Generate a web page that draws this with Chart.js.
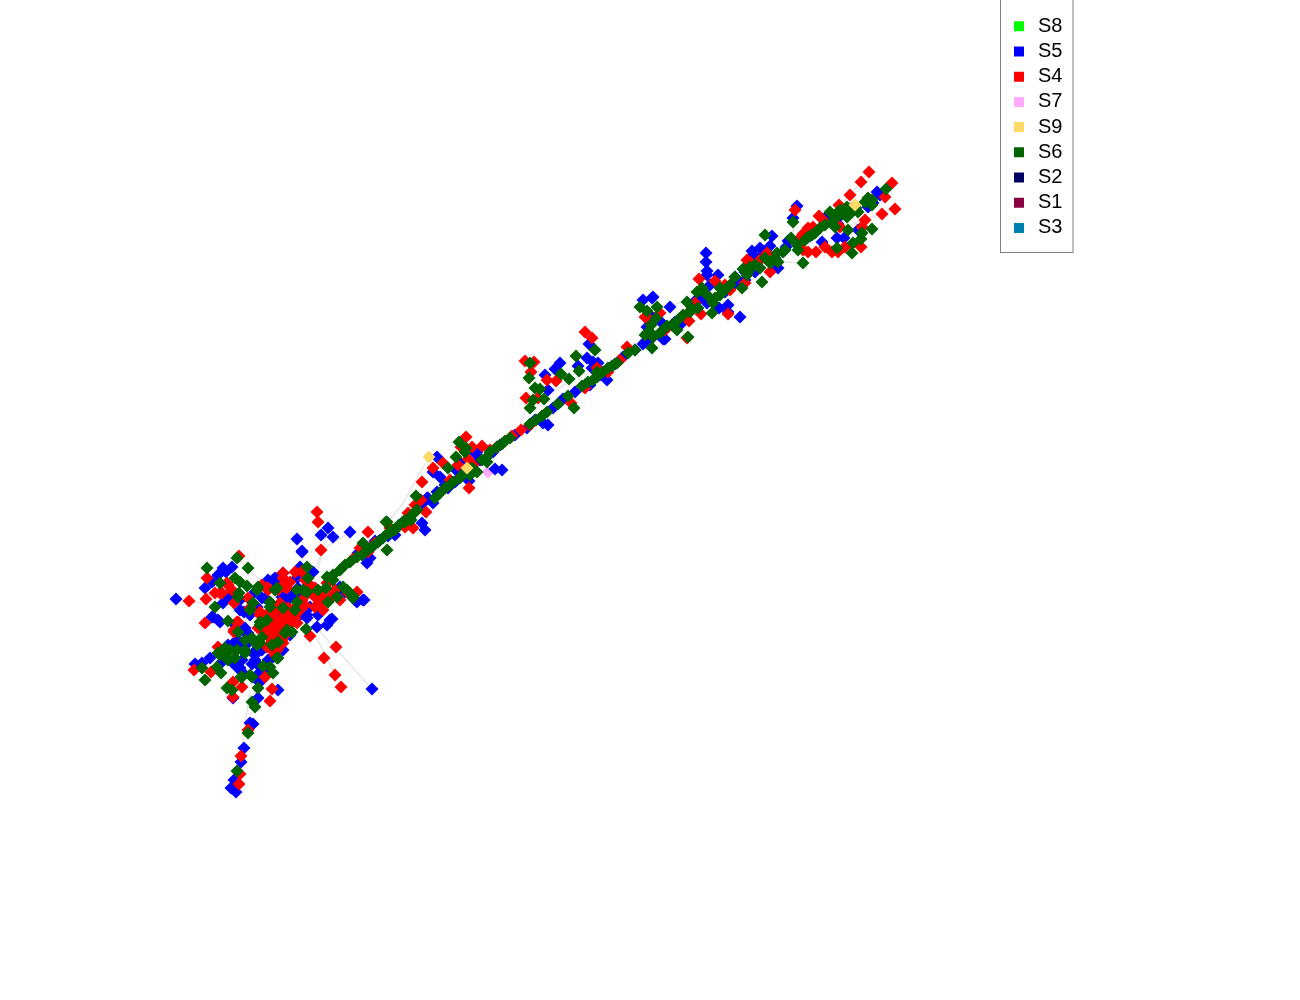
<!DOCTYPE html>
<html>
<head>
<meta charset="utf-8">
<title>Network map</title>
<script src="https://cdn.jsdelivr.net/npm/chart.js@4"></script>
<style>
  body { margin: 0; background: #fff; }
  canvas { display: block; }
</style>
</head>
<body>
<canvas id="chart" width="1300" height="1000"></canvas>
<script>
// values, in the map's own units
const seriesNames = ['S8', 'S5', 'S4', 'S7', 'S9', 'S6', 'S2', 'S1', 'S3'];
const seriesColors = ['#00ff00', '#0000ff', '#ff0000', '#ffaaff', '#ffd966', '#006400', '#000066', '#8b0040', '#0080b0'];

const s8 = [];
const s2 = [];
const s1 = [];
const s3 = [];
const s7 = [[319,609],[488,472]];
const s9 = [[429,457],[467,468],[855,205]];

const s5 = [
  [176,599],[205,588],[213,617],[220,622],[223,568],[218,575],[232,567],[223,603],[230,595],[244,612],
  [255,592],[257,607],[245,633],[226,572],[212,582],[240,600],[250,615],[262,598],[235,625],[272,605],
  [297,539],[302,551],[328,528],[321,535],[333,537],[350,532],[370,558],[302,552],[313,572],[300,567],
  [283,573],[275,578],[297,578],[298,588],[290,593],[340,587],[364,600],[357,602],[318,615],[332,619],
  [327,625],[317,627],[300,595],[288,600],[298,612],[310,607],[307,618],[345,592],[268,580],[280,612],
  [195,664],[202,663],[210,658],[235,665],[240,668],[233,698],[258,698],[278,690],[260,672],[257,680],
  [255,660],[268,660],[253,653],[272,638],[240,642],[248,633],[228,645],[245,628],[262,628],[276,640],
  [244,748],[241,762],[234,780],[231,788],[236,792],[250,723],[253,724],[372,689],[255,655],[235,642],
  [368,558],[367,563],[375,541],[395,535],[402,523],[422,523],[425,530],[427,498],[423,503],[433,503],
  [428,498],[448,488],[455,482],[440,477],[469,481],[433,472],[437,457],[495,469],[502,470],[475,453],
  [460,463],[456,470],[477,452],[493,452],[515,435],[543,423],[548,425],[553,408],[563,399],[575,392],
  [590,385],[607,380],[623,357],[643,344],[663,339],[548,390],[545,375],[555,369],[560,363],[578,366],
  [589,344],[593,362],[598,363],[587,358],[592,368],[652,298],[643,300],[653,297],[650,315],[662,323],
  [647,327],[665,339],[670,307],[682,323],[706,253],[706,262],[707,271],[707,275],[718,275],[710,285],
  [707,303],[695,301],[719,308],[728,305],[728,312],[740,317],[735,277],[733,285],[740,282],[797,206],
  [793,218],[772,236],[788,241],[770,246],[752,251],[760,248],[753,255],[762,255],[778,268],[755,272],
  [825,218],[822,242],[844,238],[837,238],[858,230],[877,192],[873,203],[880,195],[840,216],[838,224],
  [278,578],[273,580],[282,597],[292,597],[265,598],[228,597],[212,617],[218,620],[240,610],[332,597],
  [363,600],[355,600],[330,620],[307,615],[298,617],[290,635],[275,620],[273,657],[260,667],[237,640],
  [237,667],[242,660],[262,650],[246,645],[283,650],[268,672],[262,680],[252,664],[242,672],[222,662],
  [372,547],[388,536],[410,515],[445,485],[465,470],[500,445],[527,428],[560,402],[585,385],[615,364],
  [635,350],[652,338],[675,322],[700,298],[745,272],[775,258],[810,236],[832,222],[852,208],[868,207],
  [358,553],[380,540],[437,492],[480,460],[535,420],[600,375],[645,342],[725,292],[786,247],[745,280]
];

const s4 = [
  [189,601],[207,578],[206,599],[205,623],[234,630],[238,622],[239,556],[228,585],[215,593],[222,593],
  [234,603],[248,598],[268,590],[268,613],[260,612],[250,608],
  [317,512],[318,522],[368,532],[321,550],[290,582],[285,587],[302,571],[268,588],[327,583],[315,597],
  [322,592],[348,592],[357,592],[308,593],[305,605],[280,603],[288,608],[315,607],[323,610],[283,620],
  [275,625],[292,618],[268,630],[287,627],[275,628],[282,623],[288,618],[293,615],[280,643],[285,635],
  [272,615],[320,602],[335,590],[330,598],[310,585],[283,578],[278,590],[262,585],
  [310,636],[336,647],[324,658],[335,675],[341,687],[270,701],[233,697],[242,687],[233,682],[272,689],
  [194,670],[211,672],[218,647],[234,632],[269,647],[265,677],[270,648],[283,643],[280,633],[265,632],
  [241,756],[240,774],[239,784],[248,730],[360,548],[375,543],[373,545],[353,559],[405,527],[413,528],
  [408,513],[426,512],[421,500],[422,482],[433,468],[443,463],[469,488],[468,459],[472,447],[482,446],
  [466,437],[461,447],[458,465],[473,465],[497,447],[521,430],[512,436],[571,403],[627,347],[526,398],
  [538,398],[547,380],[556,381],[525,361],[534,362],[531,372],[585,332],[592,338],[597,368],[608,372],
  [647,317],[660,313],[645,317],[667,328],[687,338],[689,321],[688,313],[699,279],[715,281],[701,314],
  [728,314],[725,285],[730,290],[745,283],[869,172],[861,182],[892,183],[850,195],[885,197],[895,209],
  [882,214],[865,220],[862,227],[861,247],[845,247],[838,252],[832,252],[840,227],[795,210],[819,216],
  [839,205],[813,227],[808,228],[803,234],[825,247],[816,252],[808,252],[803,250],[767,253],[760,260],
  [747,260],[745,268],[770,272],
  [237,622],[235,631],[227,583],[220,593],[232,590],[267,588],[283,585],[287,588],[302,600],[302,572],
  [283,573],[320,597],[328,583],[348,593],[275,610],[260,615],[285,615],[292,610],[295,618],[278,627],
  [273,632],[270,638],[282,640],[277,650],[267,647],[292,623],[287,628],[297,623],[280,620],[270,622],
  [300,610],[290,612],[285,622],[278,634],[272,642],[283,612],[265,620],[258,628],
  [340,600],[325,590],[315,588],[305,580],[295,572],[275,655],
  [368,552],[390,528],[415,505],[450,480],[490,450],[530,425],[585,388],[620,360],[665,330],[695,303],
  [750,262],[800,238],[825,222],[845,212]
];

const s6 = [
  [207,568],[215,607],[228,621],[237,558],[248,568],[220,583],[235,578],[240,582],[247,586],[239,593],
  [253,603],[258,587],[260,622],[267,620],[307,567],[308,578],[327,577],[275,590],[303,590],[337,597],
  [343,587],[333,580],[353,598],[297,602],[270,602],[328,602],[295,610],[306,629],[287,630],[347,590],
  [386,522],[363,543],[387,550],[202,668],[205,680],[217,667],[221,673],[241,677],[252,677],[273,673],
  [263,666],[218,653],[225,652],[237,650],[228,660],[245,653],[255,642],[260,643],[277,658],[220,655],
  [225,648],[230,650],[245,650],[252,638],[262,637],[257,645],[242,677],[250,675],[227,688],[232,690],
  [258,688],[252,702],[255,707],[270,667],[278,658],[292,632],[285,633],[248,733],[237,771],[283,608],
  [383,538],[387,522],[388,533],[393,530],[345,565],[350,562],[357,557],[362,555],[340,570],[333,575],
  [405,522],[410,517],[417,510],[416,496],[395,530],[390,533],[411,520],[415,512],[435,498],[440,493],
  [445,488],[453,482],[460,478],[462,475],[470,475],[477,472],[448,468],[487,462],[487,457],[459,442],
  [466,448],[465,452],[456,457],[502,444],[510,438],[530,424],[542,416],[547,412],[558,404],[568,396],
  [574,408],[582,386],[588,382],[597,377],[608,368],[617,363],[635,350],[652,348],[653,335],[647,333],
  [533,400],[530,408],[540,389],[535,388],[544,399],[529,378],[569,379],[561,374],[530,363],[579,371],
  [576,356],[595,350],[597,372],[593,380],[640,307],[647,311],[657,307],[651,325],[656,318],[645,335],
  [653,337],[662,331],[672,325],[678,320],[677,330],[688,337],[683,315],[702,288],[697,292],[705,293],
  [710,298],[720,288],[720,295],[715,298],[713,303],[712,313],[698,308],[692,309],[687,302],[735,277],
  [742,288],[743,269],[747,275],[762,282],[803,263],[765,235],[791,238],[797,245],[798,250],[793,222],
  [777,253],[783,252],[773,260],[770,263],[778,262],[750,267],[760,268],[748,272],[886,189],[868,198],
  [865,202],[872,200],[872,205],[872,229],[862,233],[861,239],[852,253],[853,243],[837,248],[848,230],
  [847,207],[842,213],[837,217],[852,212],[858,212],[832,222],[835,227],[825,225],[820,228],[815,233],
  [808,237],[805,240],[830,212],[847,217],
  [257,590],[307,592],[297,590],[277,588],[238,597],[250,610],[270,607],[260,625],[253,640],[278,642],
  [353,596],[238,632],[245,640],[272,645],[235,658],
  [368,550],[373,546],[378,542],[399,525],[404,521],[450,485],[466,472],[472,468],
  [482,460],[490,452],[497,447],[505,441],[536,420],
  [603,372],[612,366],[628,353],[660,333],[667,326],[690,312],[725,290],[730,285],
  [755,265],[765,258],[785,250],[812,235],[840,210],[856,208],[318,590],[326,588]
];

// faint links of the network behind the marks
const links = [
  [310,620],[372,689],null,[310,625],[342,688],null,[250,690],[236,790],null,
  [176,599],[230,608],null,[237,558],[265,585],null,[350,532],[322,550],[312,580],null,
  [429,457],[402,505],[385,525],null,[530,400],[520,425],null,[548,395],[585,372],null,
  [869,172],[825,225],null,[895,209],[850,225],null,[793,222],[793,240],null,
  [803,263],[785,262],null,[670,307],[690,298],null,[710,300],[745,275],null,
  [245,665],[258,700],null,[330,520],[318,570]
];

const seriesPoints = [s8, s5, s4, s7, s9, s6, s2, s1, s3];
const drawOrder = { S9: 1, S6: 3, S4: 4, S5: 5, S7: 6 };

function toXY(list) {
  return list.map(p => p ? { x: p[0], y: p[1] } : { x: null, y: null });
}

const datasets = seriesNames.map((name, i) => ({
  label: name,
  data: toXY(seriesPoints[i]),
  backgroundColor: seriesColors[i],
  borderWidth: 0,
  pointStyle: 'rectRot',
  pointRadius: 6.5,
  order: drawOrder[name] || 7
}));

datasets.push({
  label: 'links',
  data: toXY(links),
  showLine: true,
  spanGaps: false,
  borderColor: '#e6e6e6',
  borderWidth: 1.5,
  pointRadius: 0,
  order: 9
});

// the legend sits in a framed box at the top right, over the plot
const legendBox = {
  id: 'legendBox',
  afterLayout(chart) {
    const lg = chart.legend;
    lg.left = 1004.8;
    lg.right = 1073;
    lg.top = 11.1;
    lg.bottom = 252;
    lg.width = lg.right - lg.left;
    lg.height = lg.bottom - lg.top;
  },
  afterDraw(chart) {
    const ctx = chart.ctx;
    ctx.save();
    ctx.strokeStyle = '#808080';
    ctx.lineWidth = 1;
    ctx.strokeRect(1000.5, -1, 72.5, 253.5);
    ctx.restore();
  }
};

new Chart(document.getElementById('chart').getContext('2d'), {
  type: 'scatter',
  data: { datasets: datasets },
  plugins: [legendBox],
  options: {
    responsive: false,
    animation: false,
    events: [],
    layout: { padding: 0, autoPadding: false },
    scales: {
      x: { display: false, min: 0, max: 1300 },
      y: { display: false, min: 0, max: 1000, reverse: true }
    },
    plugins: {
      tooltip: { enabled: false },
      legend: {
        position: 'chartArea',
        align: 'start',
        labels: {
          usePointStyle: true,
          pointStyle: 'rect',
          boxWidth: 18,
          boxHeight: 10,
          padding: 5.2,
          color: '#000',
          font: { family: '"Liberation Sans", Arial, sans-serif', size: 20 },
          filter: item => item.text !== 'links',
          sort: (a, b) => seriesNames.indexOf(a.text) - seriesNames.indexOf(b.text)
        }
      }
    }
  }
});
</script>
</body>
</html>
